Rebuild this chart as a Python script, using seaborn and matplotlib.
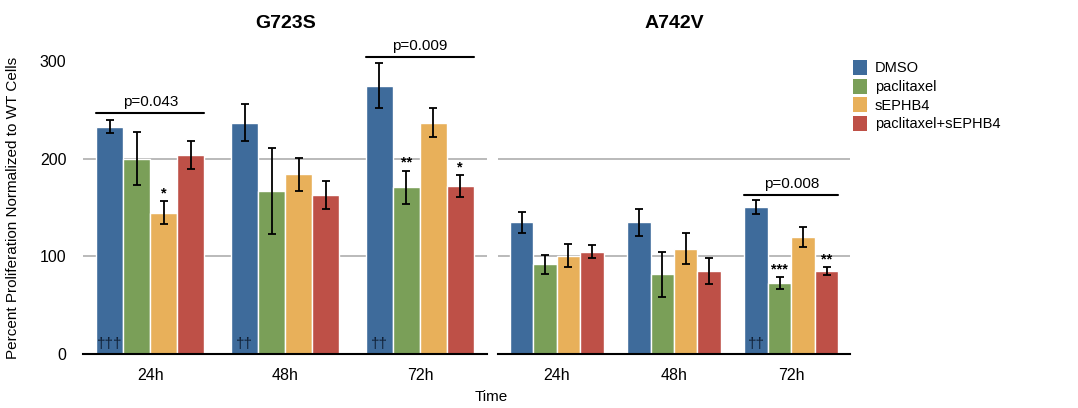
import pandas as pd
import matplotlib
matplotlib.use("Agg")
import matplotlib.pyplot as plt
import matplotlib.patches as mpatches
import seaborn as sns

times = ['24h', '48h', '72h']
treatments = ['DMSO', 'paclitaxel', 'sEPHB4', 'paclitaxel+sEPHB4']
colors = ['#3E6B9B', '#7A9F58', '#E8B05A', '#BE5047']

# G723S
g723s_dmso = [233, 237, 275]
g723s_pac = [200, 167, 171]
g723s_seph = [145, 184, 237]
g723s_combo = [204, 163, 172]
g723s_dmso_err = [7, 19, 23]
g723s_pac_err = [27, 44, 17]
g723s_seph_err = [12, 17, 15]
g723s_combo_err = [14, 14, 11]

# A742V
a742v_dmso = [135, 135, 151]
a742v_pac = [92, 82, 73]
a742v_seph = [101, 108, 120]
a742v_combo = [105, 85, 85]
a742v_dmso_err = [11, 14, 7]
a742v_pac_err = [10, 23, 6]
a742v_seph_err = [12, 16, 10]
a742v_combo_err = [7, 13, 4]

# significance marks: (time index, treatment index, text)
g723s_stars = [(0, 2, '*'), (2, 1, '**'), (2, 3, '*')]
a742v_stars = [(2, 1, '***'), (2, 3, '**')]
g723s_daggers = [(0, '†††'), (1, '††'), (2, '††')]
a742v_daggers = [(2, '††')]
# p-value brackets: (time index, height, label)
g723s_pvals = [(0, 247, 'p=0.043'), (2, 304, 'p=0.009')]
a742v_pvals = [(2, 163, 'p=0.008')]

sns.set_style('white')
plt.rcParams['font.family'] = ['Liberation Sans', 'DejaVu Sans']
plt.rcParams['text.color'] = 'black'
plt.rcParams['axes.labelcolor'] = 'black'
plt.rcParams['xtick.color'] = 'black'
plt.rcParams['ytick.color'] = 'black'


def make_df(means, errs):
    rows = []
    for tr, m, e in zip(treatments, means, errs):
        for t, v, s in zip(times, m, e):
            rows.append({'time': t, 'treatment': tr, 'value': v, 'err': s})
    return pd.DataFrame(rows)


def draw_panel(ax, df, title, stars, daggers, pvals):
    sns.barplot(data=df, x='time', y='value', hue='treatment', order=times,
                hue_order=treatments, palette=colors, saturation=1, errorbar=None,
                edgecolor='white', linewidth=1, width=0.8, legend=False, ax=ax)
    for lvl in [100, 200]:
        ax.axhline(lvl, color='#B4B4B4', lw=1.3, zorder=0)
    # error bars from bar geometry
    bar_conts = list(ax.containers)
    centers = {}
    for j, cont in enumerate(bar_conts):
        for i, bar in enumerate(cont.patches):
            cx = bar.get_x() + bar.get_width() / 2
            centers[(i, j)] = (cx, bar)
            sub = df[(df.treatment == treatments[j]) & (df.time == times[i])]
            ax.errorbar(cx, sub.value.iloc[0], yerr=sub.err.iloc[0], fmt='none',
                        ecolor='black', elinewidth=1.3, capsize=3, capthick=1.3, zorder=5)
    for i, j, s in stars:
        cx, bar = centers[(i, j)]
        sub = df[(df.treatment == treatments[j]) & (df.time == times[i])]
        top = sub.value.iloc[0] + sub.err.iloc[0]
        ax.annotate(s, (cx, top), xytext=(0, 0.5), textcoords='offset points',
                    ha='center', va='bottom', fontsize=10.5, fontweight='bold')
    for i, s in daggers:
        cx, bar = centers[(i, 0)]
        ax.text(cx, 3, s, ha='center', va='bottom', fontsize=11, color='#0F1E33')
    for i, h, s in pvals:
        x0 = centers[(i, 0)][1].get_x()
        b = centers[(i, 3)][1]
        x1 = b.get_x() + b.get_width()
        ax.plot([x0, x1], [h, h], color='black', lw=1.5, clip_on=False)
        ax.annotate(s, ((x0 + x1) / 2, h), xytext=(0, 3), textcoords='offset points',
                    ha='center', va='bottom', fontsize=11, annotation_clip=False)
    ax.set_xlim(-0.5, 2.5)
    ax.set_ylim(0, 300)
    ax.set_title(title, fontsize=14, fontweight='bold', pad=24)
    ax.set_xlabel('')
    for sp in ['left', 'right', 'top']:
        ax.spines[sp].set_visible(False)
    ax.spines['bottom'].set_color('black')
    ax.spines['bottom'].set_linewidth(1.5)
    ax.tick_params(axis='x', length=0, pad=10, labelsize=11.5)


fig = plt.figure(figsize=(10.78, 4.08), dpi=100)
ax1 = fig.add_axes([0.077, 0.132, 0.375, 0.718])
ax2 = fig.add_axes([0.462, 0.132, 0.3265, 0.718])

draw_panel(ax1, make_df([g723s_dmso, g723s_pac, g723s_seph, g723s_combo],
                        [g723s_dmso_err, g723s_pac_err, g723s_seph_err, g723s_combo_err]),
           'G723S', g723s_stars, g723s_daggers, g723s_pvals)
draw_panel(ax2, make_df([a742v_dmso, a742v_pac, a742v_seph, a742v_combo],
                        [a742v_dmso_err, a742v_pac_err, a742v_seph_err, a742v_combo_err]),
           'A742V', a742v_stars, a742v_daggers, a742v_pvals)

ax1.set_yticks([0, 100, 200, 300])
ax1.tick_params(axis='y', length=0, pad=12, labelsize=11.5)
ax1.set_ylabel('Percent Proliferation Normalized to WT Cells', fontsize=11)
ax1.yaxis.set_label_coords(-0.155, 0.5)
ax2.set_yticks([])
ax2.set_ylabel('')

fig.text(0.456, 0.027, 'Time', ha='center', va='center', fontsize=11)

handles = [mpatches.Patch(facecolor=c, edgecolor='none') for c in colors]
fig.legend(handles, treatments, loc='upper left', bbox_to_anchor=(0.791, 0.853),
           frameon=False, fontsize=10.5, borderaxespad=0, borderpad=0,
           handlelength=0.95, handleheight=1.2, labelspacing=0.22, handletextpad=0.55)

fig.savefig('out.png', dpi=100)
